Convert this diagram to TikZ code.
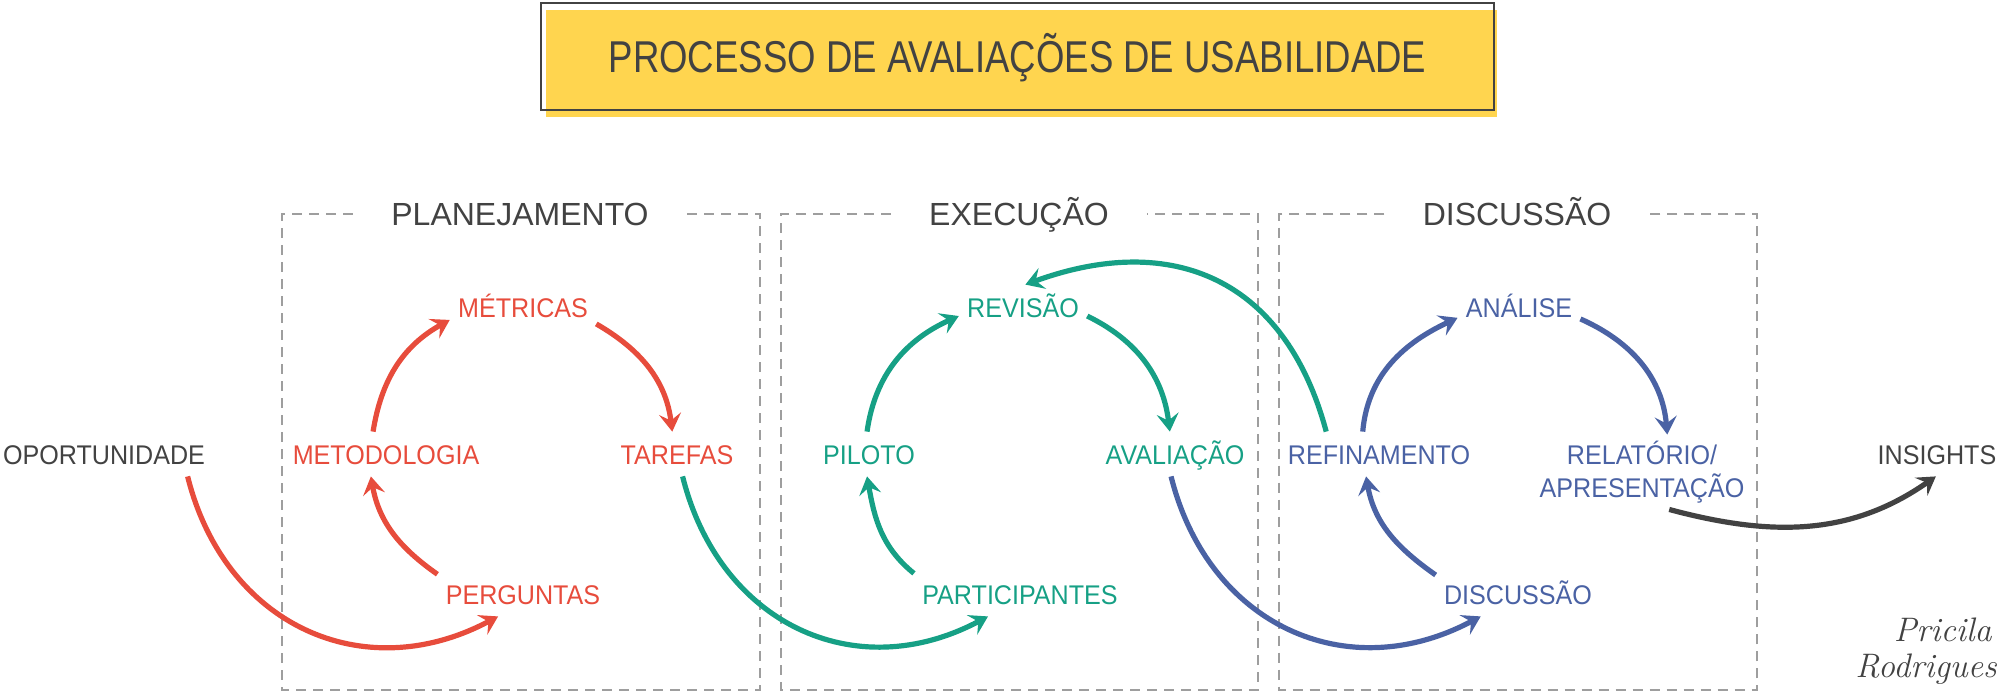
\documentclass[tikz,border=0pt]{standalone}
\usepackage{fontspec}
\usepackage{xcolor}
\usepackage{tikz}
\usetikzlibrary{arrows.meta}
\newfontfamily\labelfont[FakeStretch=0.93]{Liberation Sans}
\newfontfamily\titlefont[FakeStretch=0.82]{Liberation Sans}
\newfontfamily\headfont{Liberation Sans}
\definecolor{titleyellow}{HTML}{FFD54F}
\definecolor{darktext}{HTML}{424242}
\definecolor{planred}{HTML}{E74C3C}
\definecolor{execgreen}{HTML}{16A085}
\definecolor{discblue}{HTML}{4A62A4}
\definecolor{boxgray}{HTML}{9E9E9E}

\begin{document}
\begin{tikzpicture}[x=0.5pt,y=0.5pt,
  lbl/.style={font=\labelfont\fontsize{13.5}{16.5}\selectfont,inner xsep=4pt,
    inner ysep=6pt,text height=10pt,text depth=0pt,align=center},
  head/.style={font=\headfont\fontsize{16}{19}\selectfont,text=darktext,
    inner xsep=19pt,inner ysep=0pt,text height=11.5pt,text depth=0pt},
  flow/.style={line width=2.6pt,-{Stealth[length=9pt,width=11pt,inset=3.5pt]}},
  swing/.style={out=-76,in=208,looseness=1.15},
  secbox/.style={boxgray,line width=0.8pt,dash pattern=on 5pt off 3.5pt},
  sig/.style={darktext,font=\itshape\fontsize{17}{18}\selectfont,inner sep=0pt,anchor=east}]
  \useasboundingbox (0,0) rectangle (2000,693);
  % title
  \fill[titleyellow] (546,576) rectangle (1497,683);
  \node[draw=darktext,line width=0.9pt,minimum width=476.5pt,minimum height=53.5pt,
    text=darktext,font=\titlefont\fontsize{22.3}{26}\selectfont,
    text height=16pt,text depth=0pt] (title) at (1017.5,636.5)
    {PROCESSO DE AVALIAÇÕES DE USABILIDADE};
  % phase boxes
  \node[head] (plan) at (520,479) {PLANEJAMENTO};
  \node[head] (exec) at (1019,479) {EXECUÇÃO};
  \node[head] (disq) at (1517,479) {DISCUSSÃO};
  \draw[secbox] (plan.west) -| (282,3) -| (760,479) -- (plan.east);
  \draw[secbox] (exec.west) -| (781,3) -| (1258,479) -- (exec.east);
  \draw[secbox] (disq.west) -| (1279,3) -| (1757,479) -- (disq.east);
  % start and end
  \node[lbl,darktext] (opor) at (104,239) {OPORTUNIDADE};
  \node[lbl,darktext] (insi) at (1937,239) {INSIGHTS};
  % planejamento
  \node[lbl,planred] (metr) at (523,386) {MÉTRICAS};
  \node[lbl,planred] (meto) at (386,239) {METODOLOGIA};
  \node[lbl,planred] (tare) at (677,239) {TAREFAS};
  \node[lbl,planred] (perg) at (523,99) {PERGUNTAS};
  % execucao
  \node[lbl,execgreen] (revi) at (1023,386) {REVISÃO};
  \node[lbl,execgreen] (pilo) at (869,239) {PILOTO};
  \node[lbl,execgreen] (aval) at (1175,239) {AVALIAÇÃO};
  \node[lbl,execgreen] (part) at (1020,99) {PARTICIPANTES};
  % discussao
  \node[lbl,discblue] (anal) at (1519,386) {ANÁLISE};
  \node[lbl,discblue] (refi) at (1379,239) {REFINAMENTO};
  \node[lbl,discblue,text height={},text depth={},inner ysep=3pt] (rela) at (1642,221)
    {RELATÓRIO/\\APRESENTAÇÃO};
  \node[lbl,discblue] (disc) at (1518,99) {DISCUSSÃO};
  % red arrows
  \draw[flow,planred] (meto.120) to[out=81,in=209] (metr.190);
  \draw[flow,planred] (metr.-13) to[out=-30,in=97] (tare.102);
  \draw[flow,planred] (perg.167) to[out=145,in=280] (meto.236);
  \draw[flow,planred] (opor.-15) to[swing] (perg.222);
  % green arrows
  \draw[flow,execgreen] (pilo.95) to[out=82,in=204] (revi.188);
  \draw[flow,execgreen] (revi.-8) to[out=-26,in=97] (aval.103);
  \draw[flow,execgreen] (part.169) to[out=141,in=280] (pilo.265);
  \draw[flow,execgreen] (tare.-76) to[swing] (part.215);
  \draw[flow,execgreen] (refi.157) to[out=105,in=20,looseness=1.2] (revi.84);
  % blue arrows
  \draw[flow,discblue] (refi.126) to[out=85,in=205] (anal.190);
  \draw[flow,discblue] (anal.-11) to[out=-24,in=95] (rela.56);
  \draw[flow,discblue] (disc.167) to[out=145,in=280] (refi.240);
  \draw[flow,discblue] (aval.260) to[swing] (disc.211);
  \draw[flow,darktext] (rela.-54) to[out=-15,in=215] (insi.267);
  % signature
  \node[sig] (signa) at (1992,63) {Pricila};
  \node[sig] (signb) at (1997,24) {Rodrigues};
\end{tikzpicture}
\end{document}
